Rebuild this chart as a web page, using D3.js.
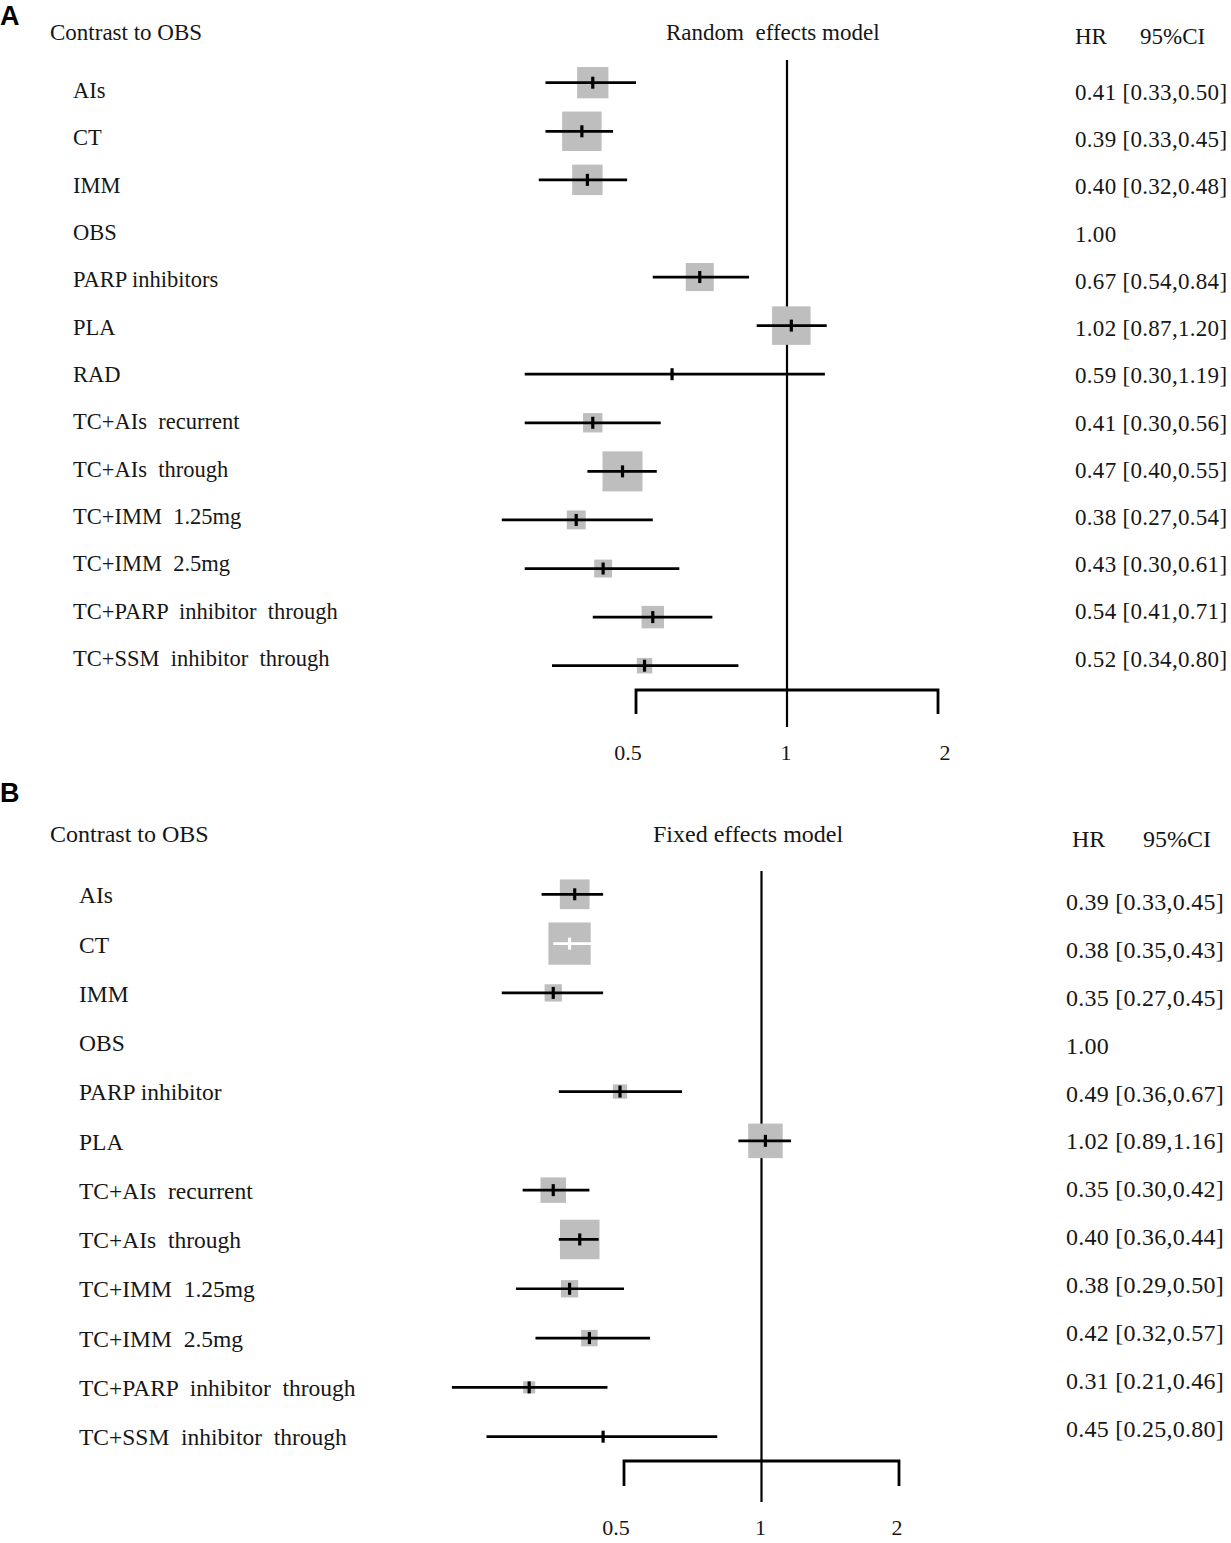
<!DOCTYPE html>
<html>
<head>
<meta charset="utf-8">
<script src="https://cdn.jsdelivr.net/npm/d3@7"></script>
<style>
  html, body { margin: 0; padding: 0; background: #ffffff; }
  svg { display: block; }
  text { font-family: "Liberation Serif", "Times New Roman", serif; fill: #161616; white-space: pre; }
  .panel-letter { font-family: "Liberation Sans", Arial, sans-serif; font-weight: bold; fill: #000; }
</style>
</head>
<body>
<svg id="chart" width="1231" height="1543"></svg>
<script>
// ---------------- DATA ----------------
// Panel A: Random effects model
const catsA = ["AIs", "CT", "IMM", "OBS", "PARP inhibitors", "PLA", "RAD",
  "TC+AIs  recurrent", "TC+AIs  through", "TC+IMM  1.25mg", "TC+IMM  2.5mg",
  "TC+PARP  inhibitor  through", "TC+SSM  inhibitor  through"];
const hrA    = [0.41, 0.39, 0.40, 1.00, 0.67, 1.02, 0.59, 0.41, 0.47, 0.38, 0.43, 0.54, 0.52];
const lowerA = [0.33, 0.33, 0.32, null, 0.54, 0.87, 0.30, 0.30, 0.40, 0.27, 0.30, 0.41, 0.34];
const upperA = [0.50, 0.45, 0.48, null, 0.84, 1.20, 1.19, 0.56, 0.55, 0.54, 0.61, 0.71, 0.80];
const weightA = [10.7, 17.0, 10.1, 0, 8.6, 16.2, 0.2, 4.1, 17.5, 3.9, 3.5, 5.5, 2.6];

// Panel B: Fixed effects model
const catsB = ["AIs", "CT", "IMM", "OBS", "PARP inhibitor", "PLA",
  "TC+AIs  recurrent", "TC+AIs  through", "TC+IMM  1.25mg", "TC+IMM  2.5mg",
  "TC+PARP  inhibitor  through", "TC+SSM  inhibitor  through"];
const hrB    = [0.39, 0.38, 0.35, 1.00, 0.49, 1.02, 0.35, 0.40, 0.38, 0.42, 0.31, 0.45];
const lowerB = [0.33, 0.35, 0.27, null, 0.36, 0.89, 0.30, 0.36, 0.29, 0.32, 0.21, 0.25];
const upperB = [0.45, 0.43, 0.45, null, 0.67, 1.16, 0.42, 0.44, 0.50, 0.57, 0.46, 0.80];
const weightB = [12.1, 24.5, 4.1, 0, 2.8, 16.3, 8.9, 21.4, 4.1, 3.7, 2.0, 0.2];

const tickValues = [0.5, 1, 2];
const tickLabels = ["0.5", "1", "2"];

// ---------------- DRAW ----------------
const svg = d3.select("#chart");

function drawPanel(p) {
  const g = svg.append("g");
  const rows = p.cats.map((c, i) => ({
    cat: c, hr: p.hr[i], lo: p.lo[i], hi: p.hi[i], w: p.w[i]
  }));

  const x = d3.scaleLog().domain([0.5, 2]).range(p.xRange);
  const y = d3.scalePoint().domain(p.cats).range(p.rowRange);
  const yLab = d3.scalePoint().domain(p.cats).range(p.labRange);
  const yVal = d3.scalePoint().domain(p.cats).range(p.valRange);
  const size = d3.scaleSqrt().domain([0, 100]).range([0, p.sizeMax]);

  // panel letter and headers
  g.append("text").attr("class", "panel-letter").attr("x", 0).attr("y", p.letterY)
    .style("font-size", "27px").text(p.letter);
  g.append("text").attr("x", 50).attr("y", p.headY)
    .style("font-size", p.headSize + "px").text("Contrast to OBS");
  g.append("text").attr("x", p.titleX).attr("y", p.headY)
    .style("font-size", p.headSize + "px").text(p.title);
  g.append("text").attr("x", p.hrX).attr("y", p.hrY)
    .style("font-size", p.headSize + "px").text("HR");
  g.append("text").attr("x", p.ciX).attr("y", p.hrY)
    .style("font-size", p.headSize + "px").text("95%CI");

  // reference line at HR = 1
  g.append("line")
    .attr("x1", x(1)).attr("x2", x(1))
    .attr("y1", p.refTop).attr("y2", p.refBottom)
    .attr("stroke", "#000").attr("stroke-width", 2.2);

  // axis bracket
  const x0 = x(tickValues[0]), x2 = x(tickValues[tickValues.length - 1]);
  g.append("path")
    .attr("d", `M${x0},${p.axisY + p.tickLen} V${p.axisY} H${x2} V${p.axisY + p.tickLen}`)
    .attr("fill", "none").attr("stroke", "#000").attr("stroke-width", 2.8);

  const labDx = [-8, -1, p.lastDx];
  g.selectAll(".tick-label").data(tickValues).join("text")
    .attr("class", "tick-label")
    .attr("x", (d, i) => x(d) + labDx[i])
    .attr("y", p.tickLabY)
    .attr("text-anchor", "middle")
    .style("font-size", "22px")
    .text((d, i) => tickLabels[i]);

  const est = rows.filter(r => r.lo != null);

  // squares
  g.selectAll(".sq").data(est).join("rect")
    .attr("class", "sq")
    .attr("x", d => x(d.hr) - size(d.w) / 2)
    .attr("y", d => y(d.cat) - size(d.w) / 2)
    .attr("width", d => size(d.w))
    .attr("height", d => size(d.w))
    .attr("fill", "#bebebe");

  // CI narrower than its box -> drawn in white (as in meta::forest)
  const inside = d => (x(d.hi) - x(d.lo)) <= size(d.w);

  // CI lines
  g.selectAll(".ci").data(est).join("line")
    .attr("class", "ci")
    .attr("x1", d => x(d.lo)).attr("x2", d => x(d.hi))
    .attr("y1", d => y(d.cat)).attr("y2", d => y(d.cat))
    .attr("stroke", d => inside(d) ? "#ffffff" : "#000")
    .attr("stroke-width", 2.7);

  // point estimate ticks
  g.selectAll(".pt").data(est).join("line")
    .attr("class", "pt")
    .attr("x1", d => x(d.hr)).attr("x2", d => x(d.hr))
    .attr("y1", d => y(d.cat) - 6).attr("y2", d => y(d.cat) + 6)
    .attr("stroke", d => inside(d) ? "#ffffff" : "#000")
    .attr("stroke-width", 3.2);

  // row labels
  g.selectAll(".lab").data(rows).join("text")
    .attr("class", "lab")
    .attr("x", p.labX)
    .attr("y", d => yLab(d.cat))
    .style("font-size", p.labSize + "px")
    .text(d => d.cat);

  // HR [CI] text
  g.selectAll(".val").data(rows).join("text")
    .attr("class", "val")
    .attr("x", p.valX)
    .attr("y", d => yVal(d.cat))
    .style("font-size", p.valSize + "px")
    .style("letter-spacing", p.valSpacing + "px")
    .text(d => d.lo == null ? d.hr.toFixed(2)
      : `${d.hr.toFixed(2)} [${d.lo.toFixed(2)},${d.hi.toFixed(2)}]`);
}

drawPanel({
  letter: "A", letterY: 25, cats: catsA, hr: hrA, lo: lowerA, hi: upperA, w: weightA,
  title: "Random  effects model", titleX: 666, headY: 40, headSize: 23,
  hrX: 1075, ciX: 1140, hrY: 44,
  xRange: [636, 938], rowRange: [82.7, 665.7], labRange: [98, 666], valRange: [100, 666.7],
  sizeMax: 95.7, refTop: 60, refBottom: 727, axisY: 690, tickLen: 24, tickLabY: 760, lastDx: 7,
  labX: 73, labSize: 22.5, valX: 1075, valSize: 23, valSpacing: 0.3
});

drawPanel({
  letter: "B", letterY: 802, cats: catsB, hr: hrB, lo: lowerB, hi: upperB, w: weightB,
  title: "Fixed effects model", titleX: 653, headY: 841.5, headSize: 24,
  hrX: 1072, ciX: 1143, hrY: 846.5,
  xRange: [624, 899], rowRange: [894.3, 1436.7], labRange: [903.3, 1445], valRange: [910, 1436.7],
  sizeMax: 85.45, refTop: 871, refBottom: 1502, axisY: 1461, tickLen: 25, tickLabY: 1535, lastDx: -2,
  labX: 79, labSize: 23.5, valX: 1066, valSize: 24, valSpacing: 0.25
});
</script>
</body>
</html>
